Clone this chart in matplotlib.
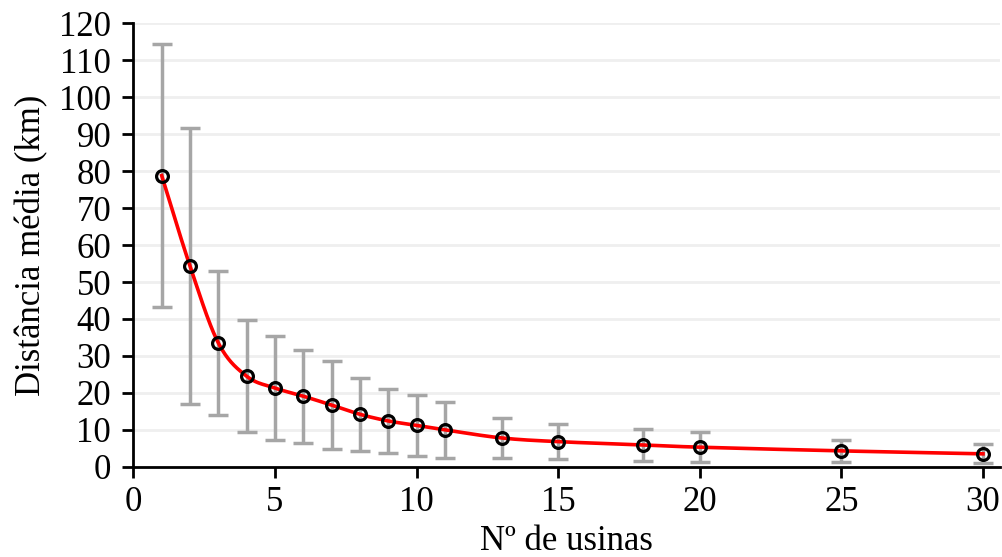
import numpy as np
import matplotlib.pyplot as plt

# dados
usinas = [1, 2, 3, 4, 5, 6, 7, 8, 9, 10, 11, 13, 15, 18, 20, 25, 30]
dist_media = [78.8, 54.3, 33.5, 24.5, 21.3, 19.1, 16.7, 14.2, 12.4, 11.2, 10.0, 7.8, 6.8, 5.9, 5.3, 4.3, 3.5]
dist_max = [114.3, 91.7, 53.0, 39.8, 35.4, 31.6, 28.6, 23.9, 21.1, 19.4, 17.5, 13.1, 11.5, 10.3, 9.3, 7.3, 6.1]
dist_min = [43.2, 17.0, 14.0, 9.3, 7.2, 6.4, 4.8, 4.3, 3.6, 2.9, 2.4, 2.5, 2.1, 1.6, 1.4, 1.2, 0.9]


def suavizar(x, y, n=30):
    # curva suavizada tipo Excel (Catmull-Rom)
    x = np.asarray(x, float)
    y = np.asarray(y, float)
    px = np.concatenate([[2 * x[0] - x[1]], x, [2 * x[-1] - x[-2]]])
    py = np.concatenate([[2 * y[0] - y[1]], y, [2 * y[-1] - y[-2]]])
    xs, ys = [], []
    t = np.linspace(0, 1, n)
    for i in range(1, len(px) - 2):
        for p, out in ((px, xs), (py, ys)):
            p0, p1, p2, p3 = p[i - 1], p[i], p[i + 1], p[i + 2]
            c1 = p1 + (p2 - p0) / 6
            c2 = p2 - (p3 - p1) / 6
            out.extend((1 - t) ** 3 * p1 + 3 * (1 - t) ** 2 * t * c1 + 3 * (1 - t) * t ** 2 * c2 + t ** 3 * p2)
    return np.array(xs), np.array(ys)


plt.rcParams['font.family'] = ['Liberation Serif', 'DejaVu Serif']
plt.rcParams['font.size'] = 25

fig, ax = plt.subplots(figsize=(10.03, 5.57), dpi=100)
fig.subplots_adjust(left=0.133, right=0.997, top=0.958, bottom=0.162)

yerr = [np.array(dist_media) - np.array(dist_min), np.array(dist_max) - np.array(dist_media)]
ax.errorbar(usinas, dist_media, yerr=yerr, fmt='none', ecolor='#a6a6a6', elinewidth=2.5, capsize=7, capthick=2.5, zorder=2)

xs, ys = suavizar(usinas, dist_media)
ax.plot(xs, ys, color='#ff0000', lw=2.6, zorder=3)
ax.plot(usinas, dist_media, 'o', ms=8.5, mfc='none', mec='black', mew=2.3, zorder=4)

ax.set_xlim(0, 30.6)
ax.set_ylim(0, 120)
ax.set_xticks([0, 5, 10, 15, 20, 25, 30])
ax.set_yticks(range(0, 121, 10))
ax.yaxis.grid(True, color='#efefef', lw=2)
ax.set_axisbelow(True)
for s in ['top', 'right']:
    ax.spines[s].set_visible(False)
for s in ['left', 'bottom']:
    ax.spines[s].set_linewidth(2)
ax.tick_params(axis='both', width=2, length=8, direction='out', labelsize=25)
ax.tick_params(axis='x', pad=6)
ax.tick_params(axis='y', pad=8)

ax.set_xlabel('N\u00ba de usinas', fontsize=25, labelpad=4)
ax.set_ylabel('Distância média (km)', fontsize=25, labelpad=8)

plt.savefig('out.png', dpi=100)
